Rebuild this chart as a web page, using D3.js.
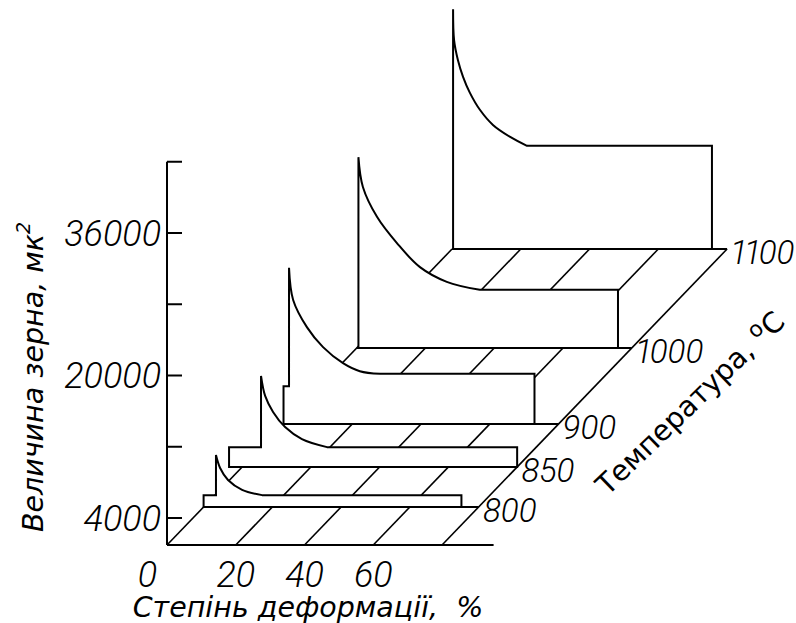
<!DOCTYPE html>
<html>
<head>
<meta charset="utf-8">
<script src="https://cdn.jsdelivr.net/npm/d3@7"></script>
<style>
  body { margin: 0; background: #fff; }
  svg { display: block; }
  .num { font-family: Roboto, "Liberation Sans", sans-serif; font-style: italic; font-weight: 300; font-size: 36px; fill: #000; }
  .temp { font-size: 33px; font-feature-settings: "pnum"; letter-spacing: -0.5px; }
  .title { font-family: "DejaVu Sans", Verdana, sans-serif; font-size: 28.5px; fill: #000; white-space: pre; }
</style>
</head>
<body>
<svg id="chart" width="796" height="623"></svg>
<script>
const temperatures = [800, 850, 900, 1000, 1100];
const deformationTicks = [0, 20, 40, 60];
const floorMarks = [0, 20, 40, 60, 80];
const grainTicks = [4000, 12000, 20000, 28000, 36000, 44000];
const grainLabels = [4000, 20000, 36000];

// grain size (mk^2) vs deformation (%) for each annealing temperature
// shelf = low level before the critical deformation, decay = the drop after the peak
const shelf800 = [[0, 2300], [3.6, 2300]];
const decay800 = [[3.6, 6800], [4.8, 5350], [7.1, 4000], [11.2, 2900], [17, 2300]];
const shelf850 = [[-3.8, 3200], [5.5, 3200]];
const decay850 = [[5.5, 11200], [6.7, 8950], [9.0, 7150], [12.5, 5450], [17.4, 4100], [24.7, 3200]];
const shelf900 = [[0, 5200], [1.6, 5200]];
const decay900 = [[1.6, 18500], [2.8, 14900], [6.8, 11850], [11.5, 9600], [17.3, 7800], [22.2, 6900], [28.1, 6600]];
const shelf1000 = [];
const decay1000 = [[0.5, 22400], [1.8, 19050], [5.9, 15700], [11.7, 12750], [18.4, 10050], [26.2, 8400], [35.8, 7500]];
const shelf1100 = [];
const decay1100 = [[0.3, 27900], [0.6, 24400], [1.7, 22200], [3.2, 20300], [5.2, 18500], [8.1, 16600], [11.9, 14900], [16.9, 13550], [21.8, 12550]];
const plateauEnd = [75, 80, 73, 76, 75.6];

const shelves = [shelf800, shelf850, shelf900, shelf1000, shelf1100];
const decays = [decay800, decay850, decay900, decay1000, decay1100];

const svg = d3.select("#chart");

// front plane scales, depth goes up-right
const x = d3.scaleLinear().domain([0, 95]).range([167, 493.6]);
const y = d3.scaleLinear().domain([4000, 36000]).range([518, 233]);
const depth = d3.scaleLinear().domain(temperatures).range([38, 78, 121, 197, 296]);
const skew = 0.963;
const floorGrain = y.invert(545);

function pt(def, grain, t) {
  const d = t == null ? 0 : depth(t);
  return [x(def) + skew * d, y(grain) - d];
}

const ink = (sel, w) => sel.attr("stroke", "#000").attr("stroke-width", w).attr("fill", "none");

// floor
const floor = svg.append("g");
floor.selectAll(".lvl").data(temperatures).join("line")
  .attr("x1", t => pt(0, floorGrain, t)[0]).attr("y1", t => pt(0, floorGrain, t)[1])
  .attr("x2", t => pt(80, floorGrain, t)[0]).attr("y2", t => pt(80, floorGrain, t)[1])
  .call(ink, 1.8);
floor.selectAll(".hatch").data(floorMarks).join("line")
  .attr("x1", m => pt(m, floorGrain)[0]).attr("y1", m => pt(m, floorGrain)[1])
  .attr("x2", m => pt(m, floorGrain, 1100)[0]).attr("y2", m => pt(m, floorGrain, 1100)[1])
  .call(ink, 1.6);

// profiles, back to front
const smooth = d3.line().curve(d3.curveCatmullRom.alpha(0.5));
function outline(i) {
  const t = temperatures[i];
  const shelf = shelves[i], decay = decays[i];
  const first = shelf.length ? shelf[0][0] : decay[0][0];
  const head = d3.line()([[first, floorGrain], ...shelf].map(p => pt(p[0], p[1], t)));
  const curve = smooth(decay.map(p => pt(p[0], p[1], t)));
  const last = decay[decay.length - 1][1];
  const tail = [[plateauEnd[i], last], [plateauEnd[i], floorGrain]].map(p => pt(p[0], p[1], t));
  return head + curve.replace(/^M/, "L") + tail.map(p => "L" + p).join("") + "Z";
}

svg.append("g").selectAll("path")
  .data(d3.range(temperatures.length).reverse())
  .join("path")
  .attr("d", outline)
  .attr("fill", "#fff")
  .attr("stroke", "#000")
  .attr("stroke-width", 2)
  .attr("stroke-linejoin", "miter");

// axes
const axes = svg.append("g");
axes.append("line")
  .attr("x1", x(0)).attr("x2", x(95))
  .attr("y1", y(floorGrain)).attr("y2", y(floorGrain))
  .call(ink, 2);
axes.append("line")
  .attr("x1", x(0)).attr("x2", x(0))
  .attr("y1", y(floorGrain)).attr("y2", y(44000))
  .call(ink, 2);
axes.selectAll(".tick").data(grainTicks).join("line")
  .attr("x1", x(0)).attr("x2", x(0) + 15)
  .attr("y1", d => y(d)).attr("y2", d => y(d))
  .call(ink, 2);

axes.selectAll(".gl").data(grainLabels).join("text")
  .attr("class", "num")
  .attr("x", x(0) - 6)
  .attr("y", d => y(d))
  .attr("dy", "0.36em")
  .attr("text-anchor", "end")
  .text(d => d);

axes.selectAll(".dl").data(deformationTicks).join("text")
  .attr("class", "num")
  .attr("x", d => d === 0 ? x(0) - 10 : x(d))
  .attr("y", 587)
  .attr("text-anchor", d => d === 0 ? "end" : "middle")
  .text(d => d);

axes.selectAll(".tl").data(temperatures).join("text")
  .attr("class", "num temp")
  .attr("x", t => pt(80, floorGrain, t)[0] + 4)
  .attr("y", t => pt(80, floorGrain, t)[1] + 3)
  .attr("dy", "0.36em")
  .text(t => t);

// titles
svg.append("text")
  .attr("class", "title")
  .attr("font-style", "italic")
  .attr("font-size", "30px")
  .attr("x", 308).attr("y", 617)
  .attr("text-anchor", "middle")
  .text("Степінь деформації,  %");

const yt = svg.append("text")
  .attr("class", "title")
  .attr("font-style", "italic")
  .attr("transform", "translate(43,377) rotate(-90)")
  .attr("text-anchor", "middle");
yt.append("tspan").text("Величина зерна, мк");
yt.append("tspan").attr("font-size", "19px").attr("dy", "-13").text("2");

const tt = svg.append("text")
  .attr("class", "title")
  .attr("transform", "translate(697,410) rotate(-44)")
  .attr("text-anchor", "middle");
tt.append("tspan").text("Температура, ");
tt.append("tspan").attr("font-size", "22px").attr("dy", "-10").text("о");
tt.append("tspan").attr("dy", "10").text("С");
</script>
</body>
</html>
